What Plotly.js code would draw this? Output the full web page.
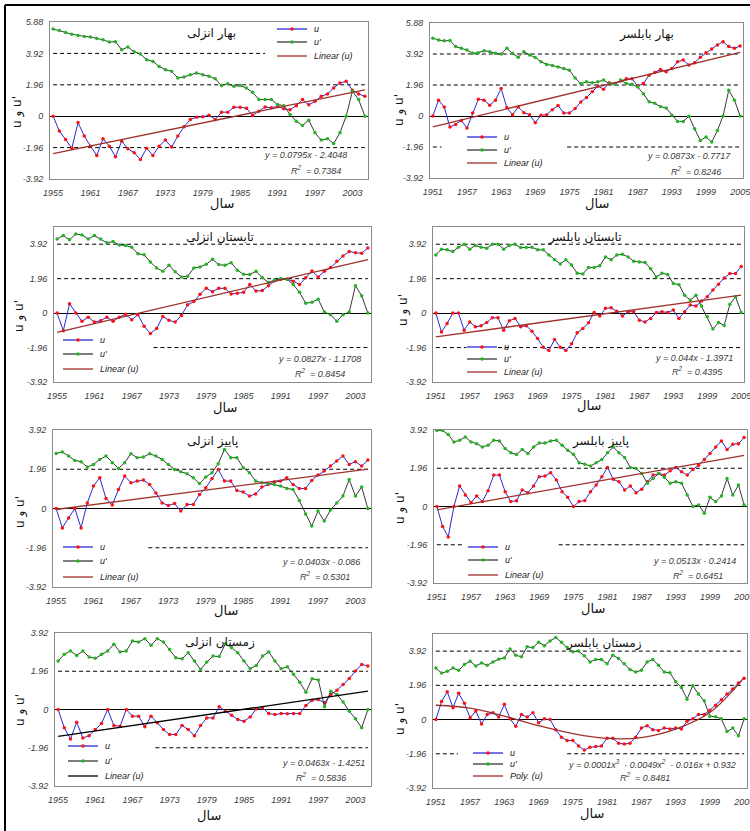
<!DOCTYPE html>
<html><head><meta charset="utf-8">
<script src="https://cdn.plot.ly/plotly-3.0.1.min.js"></script>
<style>html,body{margin:0;padding:0;background:#fff;}#chart{width:750px;height:831px;}</style>
</head><body><div id="chart"></div>
<script>
// ---------- DATA ----------
const yearsAnzali = []; for (let y = 1955; y <= 2005; y++) yearsAnzali.push(y);
const yearsBabolsar = []; for (let y = 1951; y <= 2005; y++) yearsBabolsar.push(y);
const ticksAnzali = [1955, 1961, 1967, 1973, 1979, 1985, 1991, 1997, 2003];
const ticksBabolsar = [1951, 1957, 1963, 1969, 1975, 1981, 1987, 1993, 1999, 2005];
const yTickVals = [-3.92, -1.96, 0, 1.96, 3.92, 5.88];
const yTickText = ['-3.92', '-1.96', '0', '1.96', '3.92', '5.88'];

const titles = ['بهار انزلی', 'بهار بابلسر', 'تابستان انزلی', 'تابستان بابلسر',
                'پاییز انزلی', 'پاییز بابلسر', 'زمستان انزلی', 'زمستان بابلسر'];
const xTitle = 'سال';
const yTitle = "u و u'";
const uName = 'u';
const uPrimeName = "u'";
const trendNames = ['Linear (u)', 'Linear (u)', 'Linear (u)', 'Linear (u)', 'Linear (u)', 'Linear (u)', 'Linear (u)', 'Poly. (u)'];
const equations = ['y = 0.0795x - 2.4048', 'y = 0.0873x - 0.7717', 'y = 0.0827x - 1.1708', 'y = 0.044x - 1.3971',
                   'y = 0.0403x - 0.086', 'y = 0.0513x - 0.2414', 'y = 0.0463x - 1.4251',
                   'y = 0.0001x<sup>3</sup>  - 0.0049x<sup>2</sup>  - 0.016x + 0.932'];
const rSquared = ['0.7384', '0.8246', '0.8454', '0.4395', '0.5301', '0.6451', '0.5836', '0.8481'];

// Spring Anzali
const u1 = [0,-0.93,-1.45,-2.0,-0.4,-1.24,-1.87,-2.45,-1.41,-1.87,
  -2.53,-1.56,-2.03,-2.28,-2.7,-2.0,-2.45,-1.87,-1.49,-1.93,
  -1.24,-0.66,-0.2,-0.06,-0.04,0.06,-0.2,0.25,0.25,0.56,
  0.56,0.5,0.04,0.31,0.58,0.52,0.62,0.46,0.41,0.66,
  1.04,0.71,0.93,1.24,1.39,1.76,2.07,2.18,1.62,1.39,1.24];
const uPrime1 = [5.44,5.35,5.23,5.12,5.04,4.98,4.94,4.85,4.77,4.63,
  4.65,4.15,4.32,4.02,3.88,3.53,3.42,3.11,2.9,2.8,
  2.39,2.45,2.59,2.7,2.59,2.49,2.34,1.91,2.03,1.87,
  1.91,1.76,1.49,1.04,1.04,1.04,0.73,0.66,0.1,-0.31,
  -0.58,-0.25,-1.04,-1.49,-1.41,-1.7,-1.04,0,1.56,1.04,0];
const trend1 = [-2.33, 1.65];

// Spring Babolsar
const u2 = [0,1.0,0.57,-0.7,-0.53,-0.28,-0.76,0.19,1.06,1.0,
  0.68,1.0,1.74,0.53,0.08,0.57,0.21,0.08,-0.42,0.04,
  0.08,0.4,0.66,0.19,0.19,0.47,0.89,1.17,1.53,1.89,
  1.69,2.1,2.05,2.22,2.35,2.35,1.89,2.05,2.58,2.75,
  2.94,2.8,3.0,3.43,3.54,3.22,3.37,3.71,4.0,4.24,
  4.49,4.7,4.39,4.28,4.43];
const uPrime2 = [4.92,4.81,4.75,4.77,4.39,4.28,4.17,3.96,4.0,4.13,
  4.07,3.96,3.92,4.28,3.96,3.71,4.07,3.86,3.7,3.43,
  3.26,3.2,3.1,3.0,2.9,2.4,2.05,2.16,2.1,2.16,
  2.27,2.05,2.01,2.27,2.05,2.0,1.84,1.4,0.9,0.8,
  0.6,0.5,0.05,-0.34,-0.34,-0.02,-0.81,-1.55,-1.33,-1.65,
  -0.91,0.0,1.63,1.0,0.0];
const trend2 = [-0.68, 4.03];

// Summer Anzali
const u3 = [0,-1.0,0.53,0,-0.47,-0.23,-0.51,-0.43,-0.23,-0.47,
  -0.23,-0.06,-0.38,-0.09,-0.75,-1.16,-0.88,-0.19,-0.41,-0.51,
  -0.13,0.47,0.66,1.07,1.41,1.22,1.41,1.41,1.09,1.13,
  1.18,1.63,1.26,1.28,1.56,1.84,1.93,1.93,1.82,1.63,
  2.01,2.4,2.06,2.38,2.59,2.95,3.25,3.51,3.43,3.41,3.71];
const uPrime3 = [4.22,4.41,4.17,4.5,4.45,4.22,4.41,4.22,4.0,4.07,
  3.88,3.85,3.75,3.38,3.32,2.91,2.57,2.38,2.72,2.35,
  2.06,2.1,2.57,2.63,2.78,3.06,2.76,2.72,2.87,2.44,
  2.21,2.2,2.38,2.03,1.74,1.88,1.97,1.93,1.63,1.18,
  0.56,0.62,0.79,0.06,-0.09,-0.47,-0.09,0.06,1.56,0.99,0];
const trend3 = [-1.09, 3.05];

// Summer Babolsar
const u4 = [0,-1.07,-0.59,0,0,-0.97,-0.5,-0.78,-0.72,-0.53,
  -0.27,-0.27,-0.97,-0.44,-0.3,-0.78,-0.72,-1.03,-1.45,-1.94,
  -2.13,-1.5,-1.94,-2.13,-1.75,-1.12,-0.88,-0.55,0.04,-0.17,
  0.27,0.3,0.11,-0.17,0.08,0.08,-0.4,-0.5,-0.3,0.04,
  0.08,0.04,0.17,-0.3,0.08,0.46,0.4,0.69,0.93,1.31,
  1.64,2.0,2.25,2.25,2.65];
const uPrime4 = [3.31,3.64,3.6,3.5,3.75,3.92,3.64,3.85,3.75,3.69,
  3.92,3.92,3.64,3.85,3.92,3.73,3.73,3.75,3.6,3.6,
  3.31,3.03,2.8,3.03,2.74,2.27,2.23,2.59,2.59,2.7,
  3.2,3.03,3.31,3.35,3.2,2.95,2.91,2.88,2.53,2.06,
  2.27,2.2,1.68,1.62,1.01,0.74,1.01,0.4,-0.21,-0.91,
  -0.53,-0.7,0.5,0.93,0.04];
const trend4 = [-1.35, 1.02];

// Autumn Anzali
const u5 = [0,-0.97,-0.47,0,-0.97,0.28,1.12,1.54,0.5,0.17,
  0.95,1.62,1.29,1.37,1.42,1.2,0.78,0.28,0.15,0.25,
  -0.13,0.2,0.2,0.7,1.04,1.49,1.95,1.37,1.37,0.9,
  0.83,0.62,0.73,1.07,1.2,1.32,1.37,1.54,1.2,1.0,
  1.0,1.4,1.67,1.87,2.12,2.37,2.62,2.2,2.34,2.12,2.42];
const uPrime5 = [2.75,2.82,2.62,2.4,2.34,2.07,2.2,2.45,2.62,2.29,
  2.0,2.29,2.74,2.54,2.57,2.74,2.62,2.45,2.2,1.95,
  1.84,1.74,1.54,1.25,1.57,1.79,2.24,2.95,2.54,2.54,
  2.04,1.79,1.37,1.29,1.25,1.2,1.12,1.0,0.95,0.4,
  -0.27,-0.88,-0.13,-0.63,-0.08,0.28,0.62,1.45,0.62,1.07,0];
const trend5 = [-0.05, 1.97];

// Autumn Babolsar
const u6 = [0,-1.02,-1.56,0,1.05,0.59,0.2,0.54,0.25,0.81,
  1.61,1.61,0.76,0.25,0.29,0.85,0.71,1.05,1.53,1.56,
  1.73,1.36,0.76,0.47,0,0.25,0.31,0.76,1.1,1.53,
  2.0,1.39,1.27,0.85,1.05,0.71,0.88,1.27,1.61,1.69,
  1.61,1.83,2.0,1.78,1.61,1.9,2.12,2.41,2.71,3.05,
  3.36,2.92,3.19,3.22,3.53];
const uPrime6 = [3.9,3.9,3.69,3.31,3.39,3.56,3.31,3.22,3.05,3.14,
  3.39,3.36,2.97,2.75,2.66,2.92,2.71,3.05,3.25,3.25,
  3.36,3.39,3.14,2.88,2.68,2.24,2.17,2.07,2.24,2.41,
  2.75,3.05,2.75,2.51,2.0,1.95,1.69,1.19,1.44,1.69,
  1.49,1.19,1.27,1.19,0.59,0,0.08,-0.34,0.47,0.25,
  0.54,1.44,0.59,1.1,0.08];
const trend6 = [-0.17, 2.62];

// Winter Anzali
const u7 = [0,-0.94,-1.51,-0.65,-1.46,-1.34,-1.03,-0.72,0,-0.82,
  -0.86,0,-0.34,-0.34,-0.89,-0.34,-0.68,-1.03,-1.28,-1.28,
  -0.82,-1.03,-1.34,-0.82,-0.43,-0.43,0.14,-0.09,-0.29,-0.51,
  -0.6,-0.38,0.03,0.09,-0.21,-0.26,-0.21,-0.22,-0.21,-0.21,
  0.21,0.48,0.51,0.34,0.77,0.99,1.28,1.59,1.97,2.31,2.23];
const uPrime7 = [2.48,2.83,3.0,2.77,3.0,2.69,2.62,2.83,3.0,3.34,
  2.95,3.0,3.51,3.46,3.63,3.29,3.63,3.46,3.08,2.65,
  2.6,2.91,2.48,2.05,2.43,2.74,2.71,3.37,3.17,2.91,
  2.48,2.09,2.26,2.74,2.95,2.48,2.09,2.19,1.8,1.4,
  0.89,1.58,1.51,0.14,0.94,0.77,0.38,-0.09,-0.48,-0.94,0];
const trend7 = [-1.38, 0.94];

// Winter Babolsar
const u8 = [0,1.03,1.59,0.68,1.51,0.93,0.1,0.49,-0.25,0.29,
  0.39,0.14,0.87,0.04,-0.39,0.29,0.14,0.39,-0.19,0.04,
  0,-0.58,-1.01,-1.2,-1.2,-1.51,-1.75,-1.59,-1.55,-1.51,
  -1.07,-1.07,-1.36,-1.4,-1.36,-1.01,-0.49,-0.35,-0.58,-0.62,
  -0.49,-0.54,-0.49,-0.54,-0.1,0.04,0.29,0.29,0.54,0.82,
  1.13,1.46,1.75,2.1,2.37];
const uPrime8 = [2.95,2.66,2.76,2.95,2.82,3.15,3.34,3.07,3.24,3.11,
  3.3,3.46,3.53,4.04,3.69,3.59,4.17,4.12,4.43,4.23,
  4.5,4.7,4.43,4.12,3.88,3.92,3.65,3.3,3.44,3.44,
  3.2,3.69,3.5,3.2,2.87,2.72,2.82,3.3,3.44,3.11,
  2.72,2.68,2.17,1.84,1.17,1.94,1.46,1.07,0.19,0.16,
  0.04,-0.68,-0.49,-0.93,0.04];
const polyYears8 = [1951, 1957, 1963, 1969, 1975, 1981, 1987, 1993, 1999, 2005];
const poly8 = [0.82, 0.66, 0.2, -0.35, -0.8, -1.08, -1.03, -0.55, 0.4, 2.4];

// critical levels (dashed): [level, fromYear, toYear]
const dashed = [
  [[3.92,1955,1989],[1.96,1955,2005],[-1.96,1955,2005]],
  [[3.92,1951,2005],[1.96,1951,2005],[-1.96,1951,1952.5],[-1.96,1974.6,2005]],
  [[3.92,1955,2005],[1.96,1955,2005],[-1.96,1970.5,2005]],
  [[3.92,1951,2005],[1.96,1951,2005],[-1.96,1951,1956.4],[-1.96,1962,2005]],
  [[1.96,1955,2005],[-1.96,1969.8,2005]],
  [[1.96,1951,2005],[-1.96,1951,1955.5],[-1.96,1972.4,2005]],
  [[1.96,1955,2005],[-1.96,1970.7,2005]],
  [[3.92,1951,2005],[1.96,1951,2005],[-1.96,1951,1954.9],[-1.96,1974,2005]]
];

// ---------- LAYOUT HELPERS ----------
const W = 750, H = 831;
const px = v => v / W;
const py = v => 1 - v / H;
const boxes = [ // left, top, right, bottom (px)
  [50,22,368,179],[430,23,743,178],
  [54,227,371,382],[433,227,744,382],
  [53,430,371,587],[434,430,747,583],
  [55,633,371,786],[433,634,747,788]];
const yMax = [5.88,5.88,4.9,4.9,3.92,3.92,3.92,4.9];
// legend: sample start x, and row y of the three entries (px)
const legendPos = [[277,[29,42,56]],[467,[137,150,163]],[63,[340,354,369]],[467,[347,359,372]],
                   [63,[547,561,577]],[468,[547,560,575]],[68,[746,761,776]],[473,[753,764,776]]];
const titlePos = [[211,33],[646,35],[220,238],[585,237],[212,441],[600,441],[220,642],[604,643]];
const eqPos = [[349,155,343,170],[733,156,723,171],[363,359,347,373],[735,358,725,371],
               [362,562,352,576],[738,561,725,575],[367,763,348,777],[738,764,672,777]];
const yTitlePos = [[18,112],[399,110],[20,316],[403,310],[20,512],[400,508],[20,710],[400,719]];
const xTitlePos = [[222,203],[597,203],[225,407],[589,405],[226,610],[593,608],[209,815],[592,813]];

const panels = [
  {years: yearsAnzali, u: u1, up: uPrime1, tx: [1955,2005], ty: trend1, ticks: ticksAnzali},
  {years: yearsBabolsar, u: u2, up: uPrime2, tx: [1951,2005], ty: trend2, ticks: ticksBabolsar},
  {years: yearsAnzali, u: u3, up: uPrime3, tx: [1955,2005], ty: trend3, ticks: ticksAnzali},
  {years: yearsBabolsar, u: u4, up: uPrime4, tx: [1951,2005], ty: trend4, ticks: ticksBabolsar},
  {years: yearsAnzali, u: u5, up: uPrime5, tx: [1955,2005], ty: trend5, ticks: ticksAnzali},
  {years: yearsBabolsar, u: u6, up: uPrime6, tx: [1951,2005], ty: trend6, ticks: ticksBabolsar},
  {years: yearsAnzali, u: u7, up: uPrime7, tx: [1955,2005], ty: trend7, ticks: ticksAnzali},
  {years: yearsBabolsar, u: u8, up: uPrime8, tx: polyYears8, ty: poly8, ticks: ticksBabolsar}
];
const uLine = '#2a2ad4', uMarker = '#ff1010', upLine = '#383838', upMarker = '#22b522';
const trendColors = ['#a0302c','#a0302c','#a0302c','#a0302c','#a0302c','#a0302c','#000000','#a0302c'];

const tickFont = {family: 'Liberation Sans, Arial, sans-serif', size: 9, color: '#3a3a3a', style: 'italic'};
const legFont = {family: 'Liberation Sans, Arial, sans-serif', size: 9, color: '#222', style: 'italic'};
const faFont = {family: 'DejaVu Sans, sans-serif', size: 12, color: '#111'};

const traces = [];
const layout = {
  width: W, height: H, margin: {l:0, r:0, t:0, b:0},
  paper_bgcolor: '#fff', plot_bgcolor: '#fff',
  showlegend: false, shapes: [], annotations: []
};

function legendEntry(sx, y, lineColor, markerColor, label) {
  layout.shapes.push({type: 'line', xref: 'paper', yref: 'paper', x0: px(sx), x1: px(sx + 30),
    y0: py(y), y1: py(y), line: {color: lineColor, width: 1.3}, layer: 'above'});
  if (markerColor) {
    layout.shapes.push({type: 'circle', xref: 'paper', yref: 'paper', x0: px(sx + 13.2), x1: px(sx + 16.8),
      y0: py(y + 1.8), y1: py(y - 1.8), fillcolor: markerColor, line: {width: 0}, layer: 'above'});
  }
  layout.annotations.push({text: label, xref: 'paper', yref: 'paper', x: px(sx + 35), y: py(y),
    xanchor: 'left', yanchor: 'middle', showarrow: false, font: legFont});
}

panels.forEach((p, i) => {
  const n = i + 1;
  const sfx = n === 1 ? '' : String(n);
  const xa = 'x' + sfx, ya = 'y' + sfx;
  const [l, t, r, b] = boxes[i];
  const x0 = p.years[0];
  const x1 = p.years[p.years.length - 1];

  traces.push({x: p.years, y: p.u, xaxis: xa, yaxis: ya, name: uName,
    type: 'scatter', mode: 'lines+markers', line: {color: uLine, width: 1},
    marker: {color: uMarker, size: 3.5}});
  traces.push({x: p.years, y: p.up, xaxis: xa, yaxis: ya, name: uPrimeName,
    type: 'scatter', mode: 'lines+markers', line: {color: upLine, width: 1},
    marker: {color: upMarker, size: 3.5}});
  traces.push({x: p.tx, y: p.ty, xaxis: xa, yaxis: ya, name: trendNames[i],
    type: 'scatter', mode: 'lines', line: {color: trendColors[i], width: 1.3, shape: i === 7 ? 'spline' : 'linear'}});

  layout['xaxis' + sfx] = {
    domain: [px(l), px(r)], anchor: ya, range: [x0 - 0.5, x1 + 0.5],
    tickvals: p.ticks, ticktext: p.ticks.map(String), tickfont: tickFont,
    showgrid: false, zeroline: false, showline: true, mirror: true,
    linecolor: '#8a8a8a', linewidth: 1, ticks: 'outside', ticklen: 5, tickcolor: 'rgba(0,0,0,0)',
    ticklabeloverflow: 'allow', fixedrange: true
  };
  const tv = yTickVals.filter(v => v <= yMax[i] + 1e-9);
  layout['yaxis' + sfx] = {
    domain: [py(b), py(t)], anchor: xa, range: [-3.92, yMax[i]],
    tickvals: tv, ticktext: tv.map(v => yTickText[yTickVals.indexOf(v)]), tickfont: tickFont,
    showgrid: false, zeroline: true, zerolinecolor: '#000', zerolinewidth: 1,
    showline: true, mirror: true, linecolor: '#8a8a8a', linewidth: 1,
    ticks: 'outside', ticklen: 4, tickcolor: 'rgba(0,0,0,0)', ticklabeloverflow: 'allow', fixedrange: true
  };

  dashed[i].forEach(([lev, a, c]) => {
    layout.shapes.push({type: 'line', xref: xa, yref: ya, x0: a, x1: c, y0: lev, y1: lev,
      line: {color: '#000', width: 1, dash: '4px,3px'}, layer: 'below'});
  });

  const [sx, rows] = legendPos[i];
  legendEntry(sx, rows[0], uLine, uMarker, uName);
  legendEntry(sx, rows[1], upLine, upMarker, uPrimeName);
  legendEntry(sx, rows[2], trendColors[i], null, trendNames[i]);

  layout.annotations.push({text: titles[i], xref: 'paper', yref: 'paper',
    x: px(titlePos[i][0]), y: py(titlePos[i][1]), xanchor: 'center', yanchor: 'middle',
    showarrow: false, font: faFont});
  layout.annotations.push({text: equations[i], xref: 'paper', yref: 'paper',
    x: px(eqPos[i][0]), y: py(eqPos[i][1]), xanchor: 'right', yanchor: 'middle',
    showarrow: false, font: tickFont});
  layout.annotations.push({text: 'R<sup>2</sup>  = ' + rSquared[i], xref: 'paper', yref: 'paper',
    x: px(eqPos[i][2]), y: py(eqPos[i][3]), xanchor: 'right', yanchor: 'middle',
    showarrow: false, font: tickFont});
  layout.annotations.push({text: yTitle, xref: 'paper', yref: 'paper', textangle: -90,
    x: px(yTitlePos[i][0]), y: py(yTitlePos[i][1]), xanchor: 'center', yanchor: 'middle',
    showarrow: false, font: {family: 'DejaVu Sans, sans-serif', size: 12, color: '#111'}});
  layout.annotations.push({text: xTitle, xref: 'paper', yref: 'paper',
    x: px(xTitlePos[i][0]), y: py(xTitlePos[i][1]), xanchor: 'center', yanchor: 'middle',
    showarrow: false, font: {family: 'DejaVu Sans, sans-serif', size: 13, color: '#111'}});
});

// page frame (top and left rules)
layout.shapes.push({type: 'line', xref: 'paper', yref: 'paper', x0: px(5), x1: 1, y0: py(5), y1: py(5), line: {color: '#000', width: 2}});
layout.shapes.push({type: 'line', xref: 'paper', yref: 'paper', x0: px(5), x1: px(5), y0: py(5), y1: 0, line: {color: '#000', width: 2}});

Plotly.newPlot('chart', traces, layout, {staticPlot: true, displayModeBar: false});
</script>
</body></html>
